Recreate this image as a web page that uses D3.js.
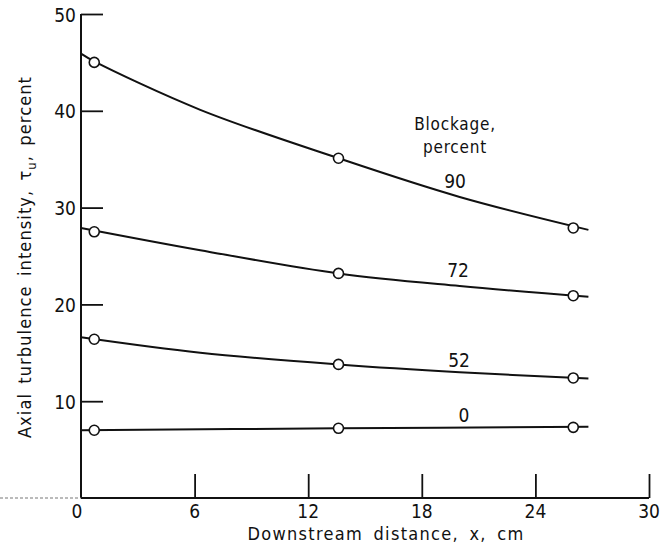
<!DOCTYPE html>
<html>
<head>
<meta charset="utf-8">
<script src="https://cdn.jsdelivr.net/npm/d3@7/dist/d3.min.js"></script>
<style>
  html, body { margin: 0; padding: 0; background: #fff; }
  svg { display: block; }
  text { font-family: "DejaVu Sans Condensed", "DejaVu Sans", sans-serif; fill: #111; }
</style>
</head>
<body>
<svg id="chart" width="662" height="550"></svg>
<script>
// Downstream stations (cm) where turbulence was measured
const stations = [0.7, 13.6, 26.0];

// Blockage levels (percent) and measured axial turbulence intensity (percent)
const blockage = ["90", "72", "52", "0"];
const tu90 = [45.0, 35.1, 27.9];
const tu72 = [27.5, 23.2, 20.9];
const tu52 = [16.4, 13.8, 12.4];
const tu0  = [7.0, 7.2, 7.3];

// Faired curves through the data, [x cm, percent], from the axis to past the last station
const fair90 = [[0, 45.9], [0.7, 45.1], [6.3, 40.1], [13.6, 35.1], [20.0, 31.1], [26.8, 27.7]];
const fair72 = [[0, 27.9], [6.3, 25.6], [13.6, 23.2], [20.0, 21.9], [26.8, 20.8]];
const fair52 = [[0, 16.6], [6.3, 15.0], [13.6, 13.8], [20.0, 13.0], [26.8, 12.35]];
const fair0  = [[0, 7.0], [13.6, 7.2], [26.8, 7.35]];

// Axis ticks
const xTicks = [6, 12, 18, 24, 30];
const xTickLabels = ["0", "6", "12", "18", "24", "30"];
const yTicks = [10, 20, 30, 40, 50];

const series = [tu90, tu72, tu52, tu0];
const faired = [fair90, fair72, fair52, fair0];

const svg = d3.select("#chart");
const x = d3.scaleLinear().domain([0, 30]).range([81, 649]);
const y = d3.scaleLinear().domain([0, 50]).range([498, 14]);

// Faired curves
const line = d3.line()
  .x(d => x(d[0]))
  .y(d => y(d[1]))
  .curve(d3.curveCatmullRom.alpha(0.5));

faired.forEach(pts => {
  svg.append("path")
    .attr("d", line(pts))
    .attr("fill", "none")
    .attr("stroke", "#111")
    .attr("stroke-width", 2);
});

// Data symbols
series.forEach(vals => {
  svg.append("g").selectAll("circle")
    .data(stations.map((s, j) => [s, vals[j]]))
    .join("circle")
    .attr("cx", d => x(d[0]))
    .attr("cy", d => y(d[1]))
    .attr("r", 5)
    .attr("fill", "#fff")
    .attr("stroke", "#111")
    .attr("stroke-width", 1.6);
});

// Y axis with inward ticks
const yAxis = d3.axisRight(y).tickValues(yTicks).tickSize(22).tickFormat("");
const gy = svg.append("g").attr("transform", `translate(${x(0)},0)`).call(yAxis);
gy.select(".domain").remove();
gy.selectAll(".tick line").attr("stroke", "#111").attr("stroke-width", 1.8);
svg.append("line")
  .attr("x1", x(0)).attr("x2", x(0))
  .attr("y1", y(50)).attr("y2", y(0))
  .attr("stroke", "#111").attr("stroke-width", 2);
svg.append("g").selectAll("text")
  .data(yTicks)
  .join("text")
  .attr("x", x(0) - 5)
  .attr("y", d => y(d) + 7.5)
  .attr("text-anchor", "end")
  .attr("font-size", 19)
  .text(d => d);

// X axis with upward ticks
const xAxis = d3.axisTop(x).tickValues(xTicks).tickSize(24).tickFormat("");
const gx = svg.append("g").attr("transform", `translate(0,${y(0)})`).call(xAxis);
gx.select(".domain").remove();
gx.selectAll(".tick line").attr("stroke", "#111").attr("stroke-width", 1.8);
svg.append("line")
  .attr("x1", x(0)).attr("x2", x(30))
  .attr("y1", y(0)).attr("y2", y(0))
  .attr("stroke", "#111").attr("stroke-width", 2);
svg.append("line")
  .attr("x1", 0).attr("x2", x(0))
  .attr("y1", y(0)).attr("y2", y(0))
  .attr("stroke", "#777").attr("stroke-width", 1)
  .attr("stroke-dasharray", "3,2");
svg.append("g").selectAll("text")
  .data([0].concat(xTicks))
  .join("text")
  .attr("x", d => x(d) - (d === 0 ? 4 : 0))
  .attr("y", 518)
  .attr("text-anchor", "middle")
  .attr("font-size", 19)
  .text((d, i) => xTickLabels[i]);

// Axis titles
svg.append("text")
  .attr("x", 386)
  .attr("y", 540)
  .attr("text-anchor", "middle")
  .attr("font-size", 18)
  .attr("letter-spacing", 1.3)
  .attr("word-spacing", 4)
  .text("Downstream distance, x, cm");

const yt = svg.append("text")
  .attr("transform", "translate(31,257) rotate(-90)")
  .attr("text-anchor", "middle")
  .attr("font-size", 18)
  .attr("letter-spacing", 1.1)
  .attr("word-spacing", 3);
yt.append("tspan").text("Axial turbulence intensity, \u03C4");
yt.append("tspan").attr("font-size", 13).attr("dy", 5).text("u");
yt.append("tspan").attr("dy", -5).text(", percent");

// Curve key
svg.append("text").attr("x", 455).attr("y", 130)
  .attr("text-anchor", "middle").attr("font-size", 17)
  .attr("letter-spacing", 0.8).text("Blockage,");
svg.append("text").attr("x", 455).attr("y", 153)
  .attr("text-anchor", "middle").attr("font-size", 17)
  .attr("letter-spacing", 0.8).text("percent");

const labelPos = [[455, 188], [458, 277], [459, 367], [464, 422]];
svg.append("g").selectAll("text")
  .data(blockage)
  .join("text")
  .attr("x", (d, i) => labelPos[i][0])
  .attr("y", (d, i) => labelPos[i][1])
  .attr("text-anchor", "middle")
  .attr("font-size", 19)
  .text(d => d);
</script>
</body>
</html>
